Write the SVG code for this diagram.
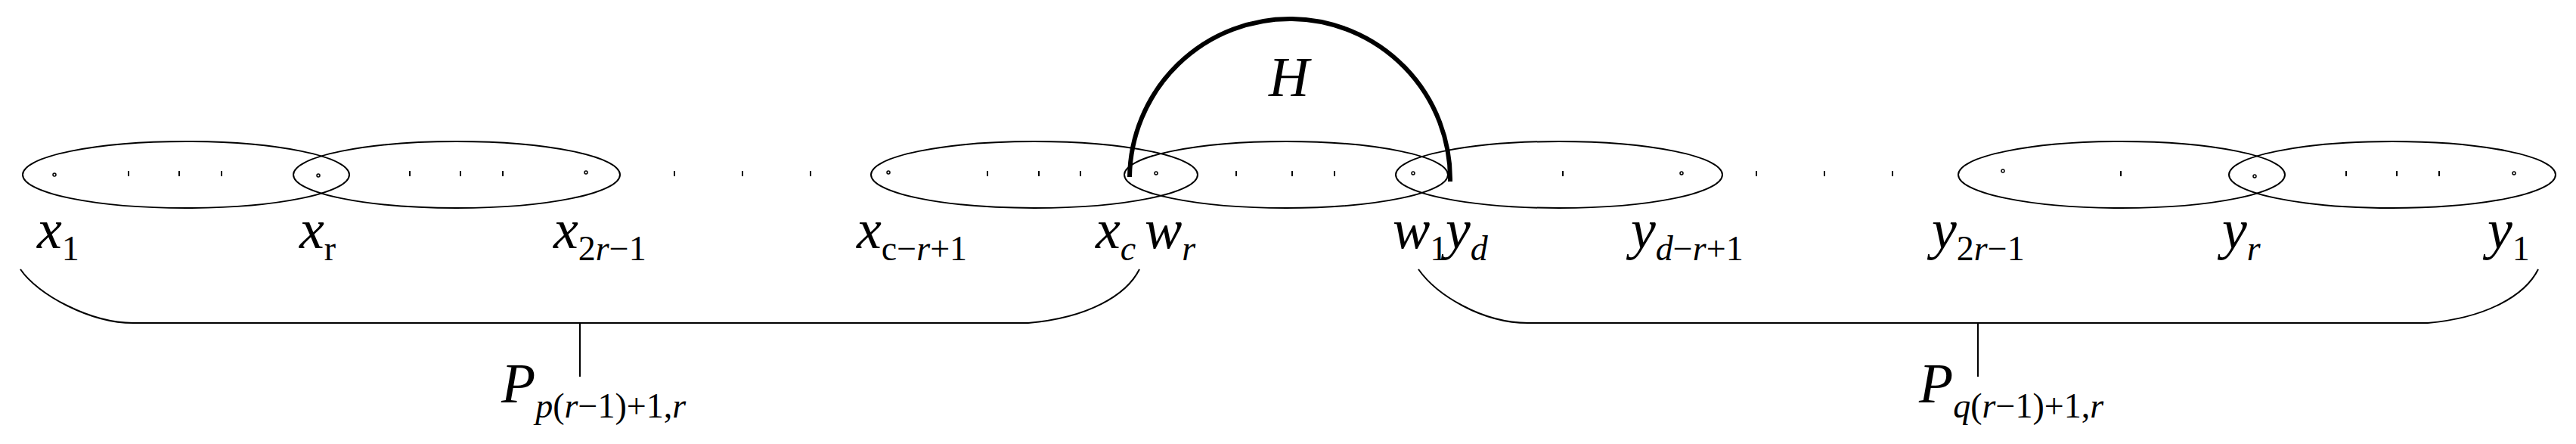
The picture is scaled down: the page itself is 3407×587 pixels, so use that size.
<svg xmlns="http://www.w3.org/2000/svg" width="3407" height="587" viewBox="0 0 3407 587">
<style>
.e{fill:none;stroke:#000;stroke-width:2}
.t{stroke:#000;stroke-width:2}
.d{fill:none;stroke:#000;stroke-width:1.5}
.l{font-family:'Liberation Serif','Times New Roman','DejaVu Serif',serif;font-style:italic;font-size:74px;fill:#000}
.s{font-size:46px}
.u{font-style:normal}
.b{fill:none;stroke:#000;stroke-width:2}
</style>
<rect width="3407" height="587" fill="#fff"/>
<g id="sets">
<ellipse id="e1" class="e" cx="246" cy="231" rx="216" ry="44"/>
<ellipse id="e2" class="e" cx="604" cy="231" rx="216" ry="44"/>
<ellipse id="e3" class="e" cx="1368" cy="231" rx="216" ry="44"/>
<ellipse id="e4" class="e" cx="1701" cy="231" rx="214" ry="44"/>
<ellipse id="e5" class="e" cx="2062" cy="231" rx="216" ry="44"/>
<ellipse id="e6" class="e" cx="2806" cy="231" rx="216" ry="44"/>
<ellipse id="e7" class="e" cx="3164" cy="231" rx="216" ry="44"/>
</g>
<g id="vertices">
<circle class="d" cx="72" cy="231" r="2"/><circle class="d" cx="421" cy="232" r="2"/><circle class="d" cx="775" cy="228" r="2"/>
<circle class="d" cx="1175" cy="228" r="2"/><circle class="d" cx="1529" cy="229" r="2"/><circle class="d" cx="1869" cy="229" r="2"/>
<circle class="d" cx="2224" cy="229" r="2"/><circle class="d" cx="2649" cy="226" r="2"/><circle class="d" cx="2982" cy="233" r="2"/><circle class="d" cx="3325" cy="229" r="2"/>
<path class="t" d="M170 226v7M237 226v7M293 226v7M542 226v7M609 226v7M665 226v7M892 226v7M982 226v7M1072 226v7M1306 226v7M1374 226v7M1429 226v7M1635 226v7M1709 226v7M1765 226v7M2067 226v7M2323 226v7M2413 226v7M2503 226v7M2805 226v7M3103 226v7M3170 226v7M3226 226v7"/>
</g>
<g id="connectors">
<path id="H-arc" fill="none" stroke="#000" stroke-width="6" d="M1494 234 A212 212 0 0 1 1918 240"/>
<path id="brace-left" class="b" d="M27 356 C50 390 120 427 176 427 L1360 427 C1440 420 1490 390 1507 356 M767 427 V498"/>
<path id="brace-right" class="b" d="M1876 356 C1900 390 1960 427 2021 427 L3211 427 C3290 420 3340 390 3357 356 M2616 427 V498"/>
</g>
<g id="labels" font-family="'Liberation Serif', serif">
<text class="l" x="1678" y="127">H</text>
<text class="l" x="49" y="328">x<tspan class="s u" dy="16">1</tspan></text>
<text class="l" x="396" y="328">x<tspan class="s u" dy="16">r</tspan></text>
<text class="l" x="732" y="328">x<tspan class="s" dy="16"><tspan class="u">2</tspan>r<tspan class="u">−1</tspan></tspan></text>
<text class="l" x="1133" y="328">x<tspan class="s" dy="16"><tspan class="u">c−</tspan>r<tspan class="u">+1</tspan></tspan></text>
<text class="l" x="1449" y="328">x<tspan class="s" dy="16">c</tspan></text>
<text class="l" x="1514" y="328">w<tspan class="s" dy="16">r</tspan></text>
<text class="l" x="1842" y="328">w<tspan class="s u" dy="16">1</tspan></text>
<text class="l" x="1912" y="328">y<tspan class="s" dy="16">d</tspan></text>
<text class="l" x="2157" y="328">y<tspan class="s" dy="16">d<tspan class="u">−</tspan>r<tspan class="u">+1</tspan></tspan></text>
<text class="l" x="2555" y="328">y<tspan class="s" dy="16"><tspan class="u">2</tspan>r<tspan class="u">−1</tspan></tspan></text>
<text class="l" x="2939" y="328">y<tspan class="s" dy="16">r</tspan></text>
<text class="l" x="3290" y="328">y<tspan class="s u" dy="16">1</tspan></text>
<text class="l" x="663" y="532">P<tspan class="s" dy="20">p<tspan class="u">(</tspan>r<tspan class="u">−1)+1,</tspan>r</tspan></text>
<text class="l" x="2538" y="532">P<tspan class="s" dy="20">q<tspan class="u">(</tspan>r<tspan class="u">−1)+1,</tspan>r</tspan></text>
</g>
</svg>
